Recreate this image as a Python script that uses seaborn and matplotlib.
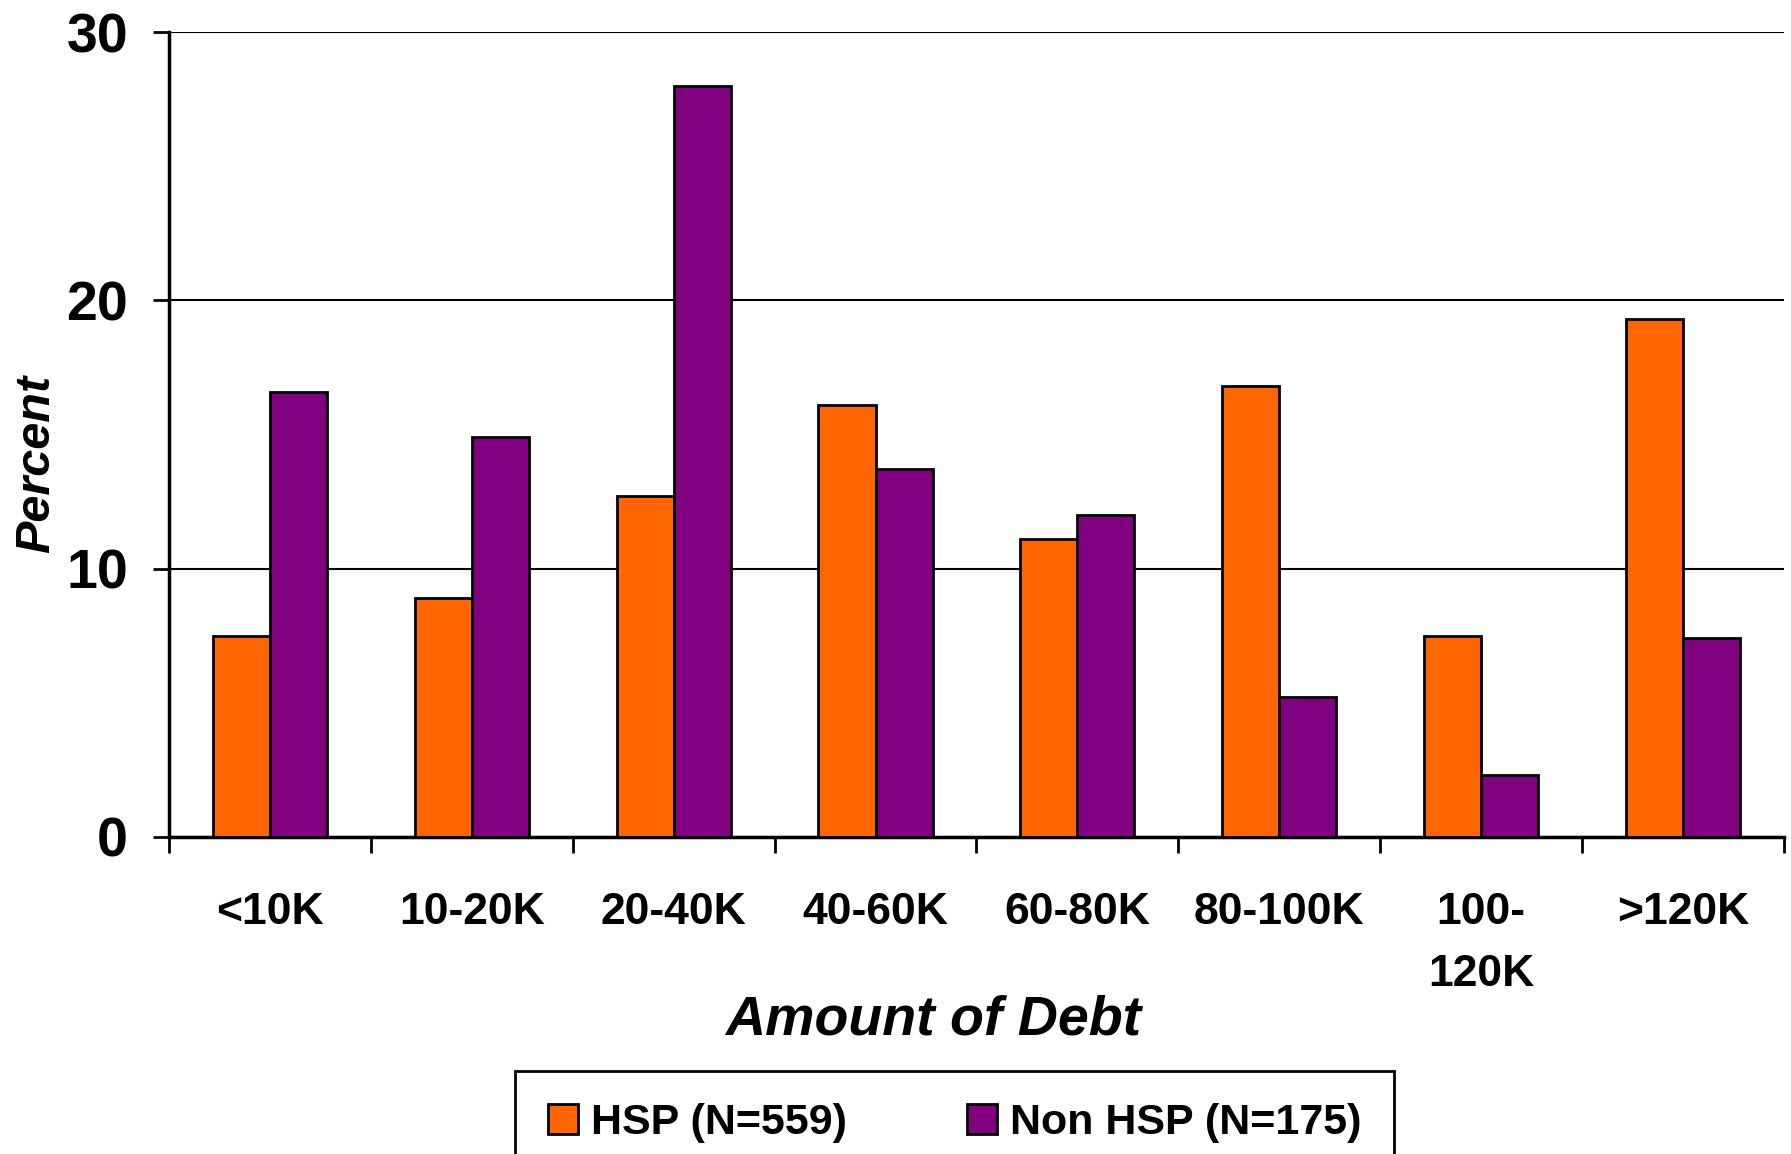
import pandas as pd
import matplotlib
matplotlib.use("Agg")
from matplotlib import pyplot as plt
from matplotlib.ticker import FixedLocator
import seaborn as sns

categories = ["<10K", "10-20K", "20-40K", "40-60K", "60-80K", "80-100K", "100-\n120K", ">120K"]
hsp = [7.5, 8.9, 12.7, 16.1, 11.1, 16.8, 7.5, 19.3]
non_hsp = [16.6, 14.9, 28.0, 13.7, 12.0, 5.2, 2.3, 7.4]
groups = ["HSP (N=559)", "Non HSP (N=175)"]
colors = ["#FF6600", "#800080"]

df = pd.DataFrame({
    "debt": categories * 2,
    "percent": hsp + non_hsp,
    "group": [groups[0]] * len(categories) + [groups[1]] * len(categories),
})

sns.set_style("white")
plt.rcParams["font.family"] = ["Liberation Sans", "DejaVu Sans"]
plt.rcParams["font.weight"] = "bold"
plt.rcParams["text.color"] = "black"
plt.rcParams["axes.labelcolor"] = "black"
plt.rcParams["xtick.color"] = "black"
plt.rcParams["ytick.color"] = "black"

fig = plt.figure(figsize=(17.91, 11.54), dpi=100)
ax = fig.add_axes([0.0944, 0.275, 0.9016, 0.697])

sns.barplot(data=df, x="debt", y="percent", hue="group", order=categories,
            hue_order=groups, palette=colors, saturation=1, width=0.566,
            edgecolor="black", linewidth=2, ax=ax, zorder=3)

ax.set_xlim(-0.5, len(categories) - 0.5)
ax.set_ylim(0, 30)
ax.set_yticks([0, 10, 20, 30])
ax.yaxis.grid(True, color="black", linewidth=1.5, zorder=0)
ax.xaxis.grid(False)

for s in ["top", "right"]:
    ax.spines[s].set_visible(False)
for s in ["left", "bottom"]:
    ax.spines[s].set_color("black")
    ax.spines[s].set_linewidth(2.5)

# labels at the centres, tick marks at the category boundaries
ax.set_xticks(range(len(categories)), labels=categories, linespacing=1.65,
              fontweight="bold", color="black")
ax.xaxis.set_minor_locator(FixedLocator([i - 0.5 for i in range(len(categories) + 1)]))
ax.tick_params(axis="x", which="major", length=0, pad=40, labelsize=32)
ax.tick_params(axis="x", which="minor", length=11.5, width=2, color="black", direction="out", bottom=True)
ax.tick_params(axis="y", length=11.5, width=2, color="black", direction="out", left=True,
               pad=18, labelsize=40, labelcolor="black")
for lab in ax.get_yticklabels():
    lab.set_fontweight("bold")

ax.set_xlabel("Amount of Debt", fontsize=40, fontweight="bold", style="italic", va="center", color="black")
ax.xaxis.set_label_coords(0.473, -0.229)
ax.set_ylabel("Percent", fontsize=35, fontweight="bold", style="italic", va="center", color="black")
ax.yaxis.set_label_coords(-0.082, 0.464)

leg = ax.legend(loc="upper center", bbox_to_anchor=(0.533, 0.072),
                bbox_transform=fig.transFigure, ncol=2, frameon=True,
                fancybox=False, edgecolor="black", fontsize=31,
                handlelength=0.7, handleheight=0.7, handletextpad=0.3,
                columnspacing=2.8, borderpad=0.75, borderaxespad=0)
leg.get_frame().set_linewidth(2)
leg.get_frame().set_alpha(1)
for t in leg.get_texts():
    t.set_fontweight("bold")
    t.set_color("black")

fig.savefig("out.png", dpi=100)
